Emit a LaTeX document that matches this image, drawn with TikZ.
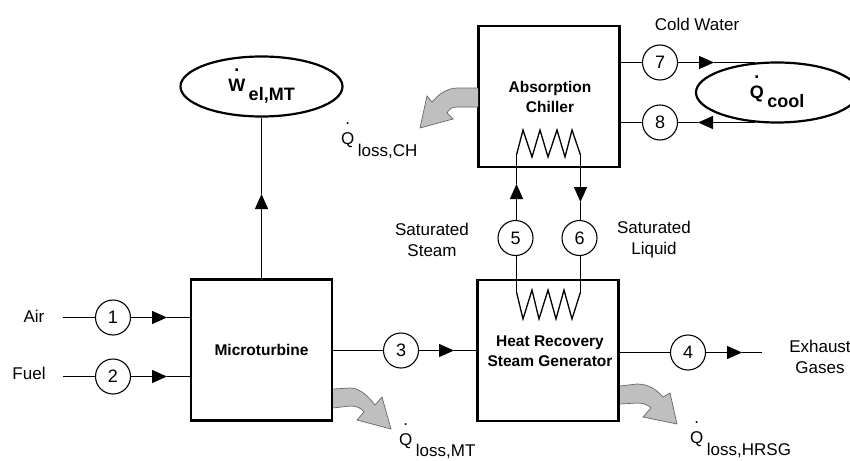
\documentclass[tikz,border=0pt]{standalone}
\usepackage{fontspec}
\setmainfont{Liberation Sans}
\usepackage{tikz}
\usetikzlibrary{arrows.meta,shapes.geometric}
\newcommand{\flowvar}[3][12pt]{%
	\ooalign{#2\cr\hidewidth\smash{\raisebox{20pt}{.}}\hidewidth\cr}%
	\kern3.5pt\smash{\raisebox{-#1}{#3}}}
\tikzset{
	wire/.style={line width=1.3pt},
	flow/.style={line width=1.3pt, -{Triangle[length=15pt,width=13pt]}},
	unit/.style={draw, line width=2.2pt, minimum width=141pt, minimum height=141pt, inner sep=0pt, align=center, font=\fontsize{15.5}{19.5}\selectfont\bfseries},
	state/.style={draw, circle, line width=1.1pt, minimum size=35pt, inner sep=0pt, font=\fontsize{18}{20}\selectfont},
	sink/.style={draw, ellipse, line width=2.2pt, minimum width=162pt, minimum height=60pt, inner sep=0pt, font=\fontsize{18}{20}\selectfont\bfseries},
	lbl/.style={inner sep=0pt, align=center, font=\fontsize{17}{21}\selectfont},
	loss/.style={fill=black!25, draw=black!60, line width=0.7pt},
}

\begin{document}
\begin{tikzpicture}[x=1pt, y=-1pt]
		\useasboundingbox (0, 0) rectangle (850, 460);
		
		\node[unit] (mt) at (261.5, 350) {Microturbine};
		\node[unit] (hrsg) at (548, 350.5) {};
		\node[lbl, font=\fontsize{15.5}{19.5}\selectfont\bfseries] (hrsgtext) at (550, 351) {Heat Recovery\\Steam Generator};
		\node[unit] (chiller) at (549, 96.5) {};
		\node[lbl, font=\fontsize{15.5}{20}\selectfont\bfseries] (chillertext) at (550, 97) {Absorption\\Chiller};
		
		\node[sink] (wel) at (261.5, 86.5) {\raisebox{3pt}{\flowvar[9pt]{W}{el,MT}}};
		\node[sink] (qcool) at (777, 92.5) {\flowvar[9pt]{Q}{cool}};
		
		\node[state] (1) at (113, 317.5) {1};
		\node[state] (2) at (113, 376.5) {2};
		\node[state] (3) at (401, 350.5) {3};
		\node[state] (4) at (688, 352.5) {4};
		\node[state] (5) at (515.5, 238) {5};
		\node[state] (6) at (579.5, 238) {6};
		\node[state] (7) at (660, 62.5) {7};
		\node[state] (8) at (660, 122.5) {8};
		
		\node[lbl] (air) at (34, 316) {Air};
		\node[lbl] (fuel) at (29, 373) {Fuel};
		\node[lbl] (water) at (697, 24) {Cold Water};
		\node[lbl] (steam) at (432, 239.5) {Saturated\\Steam};
		\node[lbl] (liquid) at (654, 239.5) {Saturated\\Liquid};
		\node[lbl] (exhaust) at (820, 356.5) {Exhaust\\Gases};
		
		\node[lbl, anchor=base west] (qch) at (341, 144) {\flowvar{Q}{loss,CH}};
		\node[lbl, anchor=base west] (qmt) at (399, 445) {\flowvar[11pt]{Q}{loss,MT}};
		\node[lbl, anchor=base west] (qhrsg) at (690, 443) {\flowvar{Q}{loss,HRSG}};
		
		\coordinate (airin) at (63, 317.5);
		\coordinate (fuelin) at (63, 376.5);
		\coordinate (out) at (762, 352.5);
		\coordinate (a1) at (167, 317.5);
		\coordinate (a2) at (167, 376.5);
		\coordinate (a3) at (454, 350.5);
		\coordinate (a4) at (742, 352.5);
		\coordinate (a5) at (516.5, 184);
		\coordinate (a6) at (580.5, 202);
		\coordinate (a7) at (714, 62.5);
		\coordinate (a8) at (698, 122.5);
		\coordinate (a9) at (261.5, 194);
		\coordinate (e7) at (755, 62.5);
		\coordinate (e8) at (755, 122.5);
		\coordinate (c1) at (516.5, 155);
		\coordinate (c2) at (580.5, 155);
		\coordinate (h1) at (516.5, 292);
		\coordinate (h2) at (580.5, 292);
		
		\draw[wire] (airin) -- (1);
		\draw[wire] (fuelin) -- (2);
		\draw[flow] (1) -- (a1);
		\draw[flow] (2) -- (a2);
		\draw[wire] (a1) -- (a1 -| mt.west);
		\draw[wire] (a2) -- (a2 -| mt.west);
		
		\draw[flow] (mt.north) -- (a9);
		\draw[wire] (a9) -- (wel.south);
		
		\draw[wire] (mt.east |- 3) -- (3);
		\draw[flow] (3) -- (a3);
		\draw[wire] (a3) -- (a3 -| hrsg.west);
		
		\draw[wire] (hrsg.east |- 4) -- (4);
		\draw[flow] (4) -- (a4);
		\draw[wire] (a4) -- (out);
		
		\draw[wire] (5.south -| h1) -- (h1);
		\draw[wire] (6.south -| h2) -- (h2);
		\draw[flow] (5.north -| a5) -- (a5);
		\draw[wire] (a5) -- (c1);
		\draw[flow] (c2) -- (a6);
		\draw[wire] (a6) -- (6.north -| a6);
		
		\draw[wire] (chiller.east |- 7) -- (7);
		\draw[wire] (chiller.east |- 8) -- (8);
		\draw[flow] (7) -- (a7);
		\draw[wire] (a7) -- (e7);
		\draw[flow] (e8) -- (a8);
		\draw[wire] (a8) -- (8);
		
		% coils
		\draw[wire] (c1) -- (523, 130) -- (532, 157) -- (540, 130) -- (548, 157) -- (557, 130) -- (565, 157) -- (572, 130) -- (c2);
		\draw[wire] (h1) -- (523, 319) -- (532, 290) -- (539, 319) -- (548, 290) -- (556, 319) -- (564, 290) -- (572, 319) -- (h2);
		
		% heat losses
		\draw[loss] (478, 88) -- (458, 88) .. controls (446, 88) and (438, 95) .. (432, 102) -- (427, 96) -- (420, 128) -- (453, 119) -- (447, 113) .. controls (449, 109) and (452, 107) .. (457, 107) -- (478, 107);
		\draw[loss] (333, 389) -- (350, 388) .. controls (360, 388) and (368, 396) .. (375, 405) -- (382, 397) -- (391, 429) -- (357, 420) -- (364, 412) .. controls (361, 408) and (357, 406) .. (350, 406) -- (333, 408);
		\draw[loss] (620, 386) -- (637, 384) .. controls (648, 384) and (656, 389) .. (663, 397) -- (670, 393) -- (677, 424) -- (643, 417) -- (651, 408) .. controls (648, 405) and (644, 403) .. (637, 403) -- (620, 404);
	\end{tikzpicture}
\end{document}
